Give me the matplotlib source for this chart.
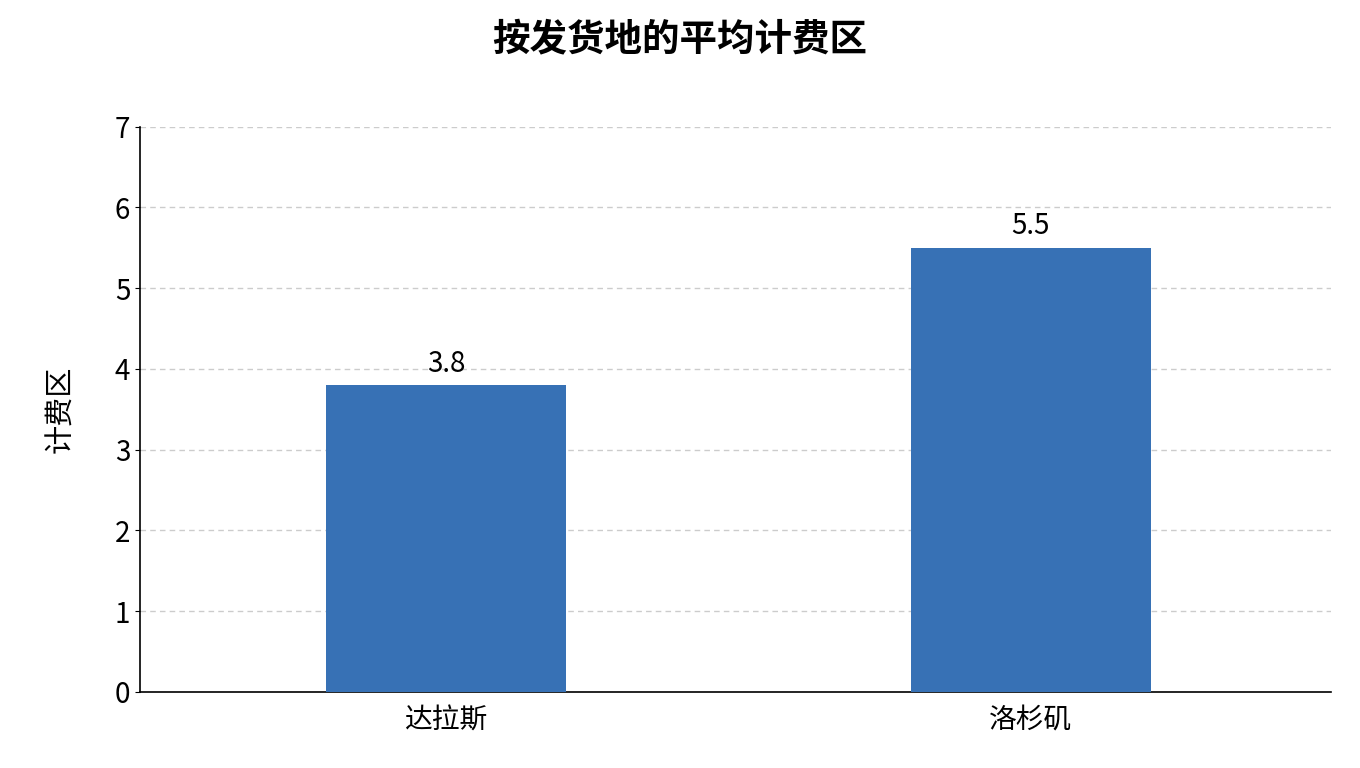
import matplotlib
matplotlib.use("Agg")
import matplotlib.pyplot as plt

plt.rcParams['font.family'] = ['Noto Sans CJK SC', 'DejaVu Sans']

categories = ["达拉斯", "洛杉矶"]
values = [3.8, 5.5]

fig = plt.figure(figsize=(13.6, 7.68), dpi=100)
ax = fig.add_axes([0.103, 0.099, 0.876, 0.736])
x = list(range(len(categories)))
ax.bar(x, values, width=0.41, color="#3771b5", zorder=3)
for xi, v in zip(x, values):
    ax.text(xi, v + 0.08, f"{v}", ha="center", va="bottom", fontsize=20)
ax.set_xlim(-0.523, 1.514)
ax.set_ylim(0, 7)
ax.set_xticks(x)
ax.set_xticklabels(categories, fontsize=20)
ax.tick_params(axis="y", labelsize=20)
ax.tick_params(axis="x", length=0, pad=10)
ax.set_ylabel("计费区", fontsize=21, labelpad=28)
ax.yaxis.grid(True, linestyle=(0, (4, 3)), color="#cccccc", linewidth=1, zorder=0)
ax.spines["top"].set_visible(False)
ax.spines["right"].set_visible(False)
ax.spines["left"].set_linewidth(1.2)
ax.spines["bottom"].set_linewidth(1.2)
fig.suptitle("按发货地的平均计费区", fontsize=27, fontweight="bold", y=0.975)
fig.savefig("out.png", dpi=100)
